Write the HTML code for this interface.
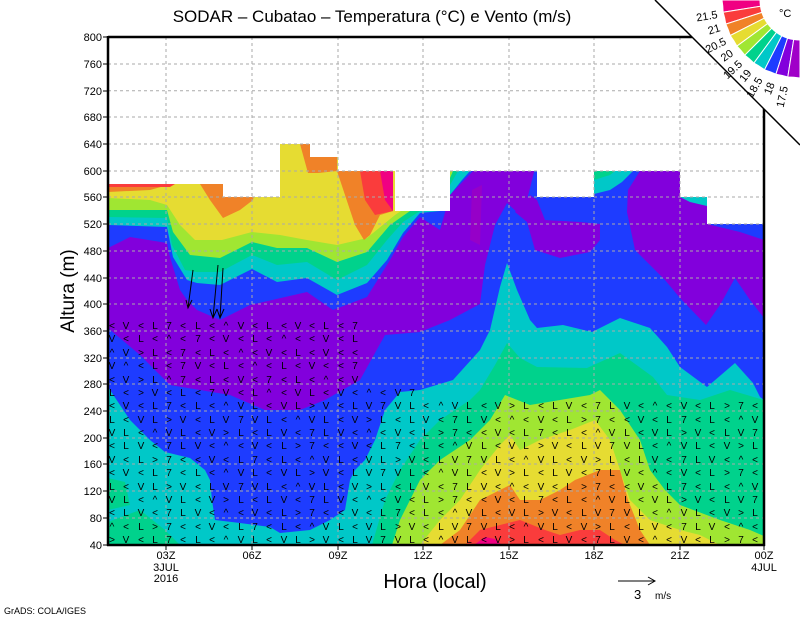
<!DOCTYPE html>
<html><head><meta charset="utf-8"><style>
html,body{margin:0;padding:0;background:#fff;}
svg{display:block;font-family:"Liberation Sans",sans-serif;}
</style></head><body>
<svg width="800" height="618" viewBox="0 0 800 618" xmlns="http://www.w3.org/2000/svg">
<rect width="800" height="618" fill="#fff"/>
<g>
<rect x="108" y="37" width="656" height="508" fill="#8200dc"/>
<polygon fill="#1e3cff" points="108,328 140,355 170,385 230,395 265,410 300,410 325,400 360,380 385,335 420,332 450,320 480,304 485,265 495,225 507,203 520,215 527,200 537,160 645,160 640,171 628,190 627,212 635,250 665,280 680,298 706,325 720,305 735,278 750,300 764,318 764,545 108,545"/>
<polygon fill="#8200dc" points="515,212 527,222 535,250 560,258 590,252 600,240 600,224 580,222 545,220 537,200 530,195"/>
<polygon fill="#9600c8" points="472,190 482,185 480,245 470,240"/>
<polygon fill="#00c8c8" points="108,387 130,420 150,440 165,452 190,458 205,470 210,480 212,500 215,520 240,523 270,527 280,533 310,530 330,520 345,510 350,480 355,470 365,460 375,440 385,410 400,392 420,390 453,380 480,350 490,330 500,287 507,263 517,290 530,320 537,328 563,325 592,332 620,318 650,328 667,347 680,367 707,387 735,363 753,383 760,397 764,400 764,545 108,545"/>
<polygon fill="#00d28c" points="108,478 125,482 130,505 108,510"/>
<polygon fill="#00d28c" points="108,522 140,510 165,530 180,545 108,545"/>
<polygon fill="#00d28c" points="372,545 385,500 400,470 420,440 440,420 470,400 480,390 495,365 507,343 520,358 537,367 587,368 620,353 653,377 667,395 700,400 730,390 764,400 764,545"/>
<polygon fill="#a0e632" points="392,545 400,520 420,480 440,460 470,440 490,420 505,395 530,405 560,400 590,395 600,390 620,410 640,440 650,470 665,490 680,505 720,520 750,530 764,536 764,545"/>
<polygon fill="#e6dc32" points="420,545 440,520 460,500 480,470 500,445 510,435 520,450 540,440 570,430 595,420 610,440 620,470 630,500 650,520 680,530 700,535 720,545"/>
<polygon fill="#f08228" points="440,545 460,530 480,500 500,490 510,485 520,500 540,500 560,490 575,480 600,470 620,470 628,500 640,530 650,545"/>
<polygon fill="#fa3c3c" points="465,545 480,530 500,525 520,520 545,530 560,535 580,530 600,530 615,540 625,545"/>
<polygon fill="#f00082" points="474,545 485,537 495,539 502,545"/>
<polygon fill="#1e3cff" points="108,100 108,248 130,237 167,243 170,257 180,290 187,300 197,310 220,320 250,305 307,292 333,310 367,297 390,260 403,237 420,217 440,230 450,195 473,171 473,100"/>
<polygon fill="#00c8c8" points="108,100 108,225 167,227 173,257 187,280 197,283 220,285 252,269 277,282 307,278 337,295 367,283 387,260 403,233 420,213 440,211 450,195 462,180 470,171 470,100"/>
<polygon fill="#00d28c" points="108,100 108,217 167,218 172,245 185,270 197,272 220,272 252,255 277,265 307,262 337,280 367,265 387,240 403,222 420,211 450,185 458,171 458,100"/>
<polygon fill="#a0e632" points="108,100 108,210 167,210 173,232 190,255 220,258 252,242 277,248 307,248 337,262 367,252 390,225 410,211 450,178 453,171 453,100"/>
<polygon fill="#e6dc32" points="108,100 108,198 150,200 167,205 180,225 195,240 222,240 252,232 280,235 307,240 337,245 367,238 395,215 410,205 410,100"/>
<polygon fill="#f08228" points="108,100 108,192 150,190 168,185 178,182 178,100"/>
<polygon fill="#f08228" points="200,184 210,200 223,218 240,210 253,200 256,184"/>
<polygon fill="#f08228" points="300,144 310,144 310,157 337,157 337,171 318,173 308,173"/>
<polygon fill="#f08228" points="337,171 345,195 355,225 364,240 370,235 380,215 393,211 393,171"/>
<polygon fill="#fa3c3c" points="360,171 365,200 375,215 393,211 393,171"/>
<polygon fill="#f00082" points="380,171 393,171 393,211 385,200"/>
<polygon fill="#fa3c3c" points="108,184 175,184 170,187 108,187"/>
<polygon fill="#00c8c8" points="594,171 633,171 622,182 610,190 594,194"/>
<polygon fill="#00d28c" points="594,171 615,171 610,175 594,180"/>
<polygon fill="#1e3cff" points="707,224 764,224 764,240 740,232"/>
<polygon fill="#00c8c8" points="680,197 707,197 707,206 690,202"/>
<path fill="#fff" d="M108,36 H764 V224 H707 V197 H680 V171 H594 V197 H537 V171 H450 V211 H395 V171 H338 V157 H310 V144 H280 V197 H223 V184 H108 Z"/>
</g>
<g stroke="#aaa" stroke-width="1" stroke-dasharray="3 3" fill="none">
<path d="M108,64H764M108,90.7H764M108,117H764M108,144H764M108,171H764M108,197H764M108,224H764M108,251H764M108,278H764M108,304H764M108,331H764M108,358H764M108,384H764M108,411H764M108,438H764M108,464H764M108,491H764M108,518H764"/>
<path d="M166,37V545M252,37V545M338,37V545M423,37V545M509,37V545M594,37V545M680,37V545"/>
</g>
<g fill="#000" font-size="10" text-anchor="middle">
<text x="112 126 141 155 169 183 198 212 226 241 255 269 284 298 312 326 341 355" y="329">&lt;V&lt;L7&lt;L&lt;^V&lt;L&lt;V&lt;L&lt;7</text>
<text x="112 126 141 155 169 183 198 212 226 241 255 269 284 298 312 326 341 355" y="342">V&lt;L&lt;^&lt;7&lt;V&lt;L&lt;^&lt;&lt;V&lt;L</text>
<text x="112 126 141 155 169 183 198 212 226 241 255 269 284 298 312 326 341 355" y="356">^V&gt;L&lt;7&lt;L&lt;^&lt;V&lt;L&lt;V&lt;&lt;</text>
<text x="112 126 141 155 169 183 198 212 226 241 255 269 284 298 312 326 341 355" y="369">V^&lt;L&lt;7V&lt;L&lt;^&lt;L&lt;V&lt;&lt;7</text>
<text x="112 126 141 155 169 183 198 212 226 241 255 269 284 298 312 326 341 355" y="383">&lt;V&gt;L^7&lt;L&lt;V&lt;7&lt;L&lt;^&lt;V</text>
<text x="112 126 141 155 169 183 198 212 226 241 255 269 284 298 312 326 341 355 369 383 398 412" y="396">L&lt;&gt;V&lt;L&lt;7V&lt;L^&lt;VL&lt;V&lt;^&lt;V7</text>
<text x="112 126 141 155 169 183 198 212 226 241 255 269 284 298 312 326 341 355 369 383 398 412 426 441 455 469 484 498 512 526 541 555 569 584 598 612 627 641 655 669 684 698 712 727 741 755" y="409">&lt;V&lt;L7&lt;L&lt;^VL&lt;VL&gt;V&lt;LV7VL&lt;^VL&lt;V&gt;L&lt;LV&lt;7LV&lt;^&lt;V&lt;L&gt;7&lt;</text>
<text x="112 126 141 155 169 183 198 212 226 241 255 269 284 298 312 326 341 355 369 383 398 412 426 441 455 469 484 498 512 526 541 555 569 584 598 612 627 641 655 669 684 698 712 727 741 755" y="423">L&lt;VL&gt;V&lt;LV7VL&lt;^VL&lt;V&gt;L&lt;LV&lt;7LV&lt;^&lt;V&lt;L&gt;7&lt;&lt;V&lt;L7&lt;L&lt;^V</text>
<text x="112 126 141 155 169 183 198 212 226 241 255 269 284 298 312 326 341 355 369 383 398 412 426 441 455 469 484 498 512 526 541 555 569 584 598 612 627 641 655 669 684 698 712 727 741 755" y="436">VL&lt;^VL&lt;V&gt;L&lt;LV&lt;7LV&lt;^&lt;V&lt;L&gt;7&lt;&lt;V&lt;L7&lt;L&lt;^VL&lt;VL&gt;V&lt;LV7</text>
<text x="112 126 141 155 169 183 198 212 226 241 255 269 284 298 312 326 341 355 369 383 398 412 426 441 455 469 484 498 512 526 541 555 569 584 598 612 627 641 655 669 684 698 712 727 741 755" y="449">&lt;LV&lt;7LV&lt;^&lt;V&lt;L&gt;7&lt;&lt;V&lt;L7&lt;L&lt;^VL&lt;VL&gt;V&lt;LV7VL&lt;^VL&lt;V&gt;L</text>
<text x="112 126 141 155 169 183 198 212 226 241 255 269 284 298 312 326 341 355 369 383 398 412 426 441 455 469 484 498 512 526 541 555 569 584 598 612 627 641 655 669 684 698 712 727 741 755" y="463">V&lt;L&gt;7&lt;&lt;V&lt;L7&lt;L&lt;^VL&lt;VL&gt;V&lt;LV7VL&lt;^VL&lt;V&gt;L&lt;LV&lt;7LV&lt;^&lt;</text>
<text x="112 126 141 155 169 183 198 212 226 241 255 269 284 298 312 326 341 355 369 383 398 412 426 441 455 469 484 498 512 526 541 555 569 584 598 612 627 641 655 669 684 698 712 727 741 755" y="476">&lt;V&lt;L7&lt;L&lt;^VL&lt;VL&gt;V&lt;LV7VL&lt;^VL&lt;V&gt;L&lt;LV&lt;7LV&lt;^&lt;V&lt;L&gt;7&lt;</text>
<text x="112 126 141 155 169 183 198 212 226 241 255 269 284 298 312 326 341 355 369 383 398 412 426 441 455 469 484 498 512 526 541 555 569 584 598 612 627 641 655 669 684 698 712 727 741 755" y="490">L&lt;VL&gt;V&lt;LV7VL&lt;^VL&lt;V&gt;L&lt;LV&lt;7LV&lt;^&lt;V&lt;L&gt;7&lt;&lt;V&lt;L7&lt;L&lt;^V</text>
<text x="112 126 141 155 169 183 198 212 226 241 255 269 284 298 312 326 341 355 369 383 398 412 426 441 455 469 484 498 512 526 541 555 569 584 598 612 627 641 655 669 684 698 712 727 741 755" y="503">VL&lt;^VL&lt;V&gt;L&lt;LV&lt;7LV&lt;^&lt;V&lt;L&gt;7&lt;&lt;V&lt;L7&lt;L&lt;^VL&lt;VL&gt;V&lt;LV7</text>
<text x="112 126 141 155 169 183 198 212 226 241 255 269 284 298 312 326 341 355 369 383 398 412 426 441 455 469 484 498 512 526 541 555 569 584 598 612 627 641 655 669 684 698 712 727 741 755" y="516">&lt;LV&lt;7LV&lt;^&lt;V&lt;L&gt;7&lt;&lt;V&lt;L7&lt;L&lt;^VL&lt;VL&gt;V&lt;LV7VL&lt;^VL&lt;V&gt;L</text>
<text x="112 126 141 155 169 183 198 212 226 241 255 269 284 298 312 326 341 355 369 383 398 412 426 441 455 469 484 498 512 526 541 555 569 584 598 612 627 641 655 669 684 698 712 727 741 755" y="530">^&lt;L&gt;7&lt;&lt;V&lt;L7&lt;L&lt;^VL&lt;VL&gt;V&lt;LV7VL&lt;^VL&lt;V&gt;L&lt;LV&lt;7LV&lt;^&lt;</text>
<text x="112 126 141 155 169 183 198 212 226 241 255 269 284 298 312 326 341 355 369 383 398 412 426 441 455 469 484 498 512 526 541 555 569 584 598 612 627 641 655 669 684 698 712 727 741 755" y="543">&gt;V&lt;L7&lt;L&lt;^VL&lt;VL&gt;V&lt;LV7VL&lt;^VL&lt;V&gt;L&lt;LV&lt;7LV&lt;^&lt;V&lt;L&gt;7&lt;</text>
</g>
<g stroke="#000" stroke-width="1" fill="none">
<path d="M193,270L188,308M186,300L188,308L192,300"/>
<path d="M218,265L213,318M210,309L213,318L217,309"/>
<path d="M223,268L220,318M217,309L220,318L224,309"/>
</g>
<g stroke="#000" fill="none">
<path d="M108,36V546M107,545H765" stroke-width="2.5"/>
<path d="M764,108V546" stroke-width="2.5"/>
<path d="M108,37H692" stroke-width="2.5"/>
<path d="M166,545v5M252,545v5M338,545v5M423,545v5M509,545v5M594,545v5M680,545v5M764,545v5" stroke-width="1"/>
<path d="M103,37h5M103,64h5M103,91h5M103,117h5M103,144h5M103,171h5M103,197h5M103,224h5M103,251h5M103,278h5M103,304h5M103,331h5M103,358h5M103,384h5M103,411h5M103,438h5M103,464h5M103,491h5M103,518h5M103,545h5" stroke-width="1"/>
</g>
<polygon fill="#fff" points="655,0 800,0 800,145"/>
<line x1="655" y1="0" x2="800" y2="145" stroke="#000" stroke-width="1.5"/>
<g stroke="#fff" stroke-width="1">
<path fill="#f00082" d="M722,0 A78,78 0 0 1 723.1,12.2 L760.5,6.3 A40,40 0 0 1 760,0 Z"/>
<path fill="#fa3c3c" d="M723.1,12.2 A78,78 0 0 1 725.8,24.1 L761.9,12.4 A40,40 0 0 1 760.5,6.3 Z"/>
<path fill="#f08228" d="M725.8,24.1 A78,78 0 0 1 730.2,35.5 L764.2,18.2 A40,40 0 0 1 761.9,12.4 Z"/>
<path fill="#e6dc32" d="M730.2,35.5 A78,78 0 0 1 736.9,46.1 L767.6,23.6 A40,40 0 0 1 764.2,18.2 Z"/>
<path fill="#a0e632" d="M736.9,46.1 A78,78 0 0 1 744.8,55.2 L771.7,28.3 A40,40 0 0 1 767.6,23.6 Z"/>
<path fill="#00d28c" d="M744.8,55.2 A78,78 0 0 1 753.9,63.1 L776.4,32.4 A40,40 0 0 1 771.7,28.3 Z"/>
<path fill="#00c8c8" d="M753.9,63.1 A78,78 0 0 1 764.5,69.8 L781.8,35.8 A40,40 0 0 1 776.4,32.4 Z"/>
<path fill="#1e3cff" d="M764.5,69.8 A78,78 0 0 1 775.9,74.2 L787.6,38.1 A40,40 0 0 1 781.8,35.8 Z"/>
<path fill="#8200dc" d="M775.9,74.2 A78,78 0 0 1 787.8,77.0 L793.7,39.5 A40,40 0 0 1 787.6,38.1 Z"/>
<path fill="#a000c8" d="M787.8,77.0 A78,78 0 0 1 800,78 L800,40 A40,40 0 0 1 793.7,39.5 Z"/>
</g>
<g font-size="11" fill="#000" text-anchor="end">
<text transform="translate(718,18) rotate(-9.5)">21.5</text>
<text transform="translate(721,31) rotate(-17)">21</text>
<text transform="translate(727,44) rotate(-26)">20.5</text>
<text transform="translate(734,55) rotate(-35)">20</text>
<text transform="translate(743,65) rotate(-43)">19.5</text>
<text transform="translate(752,73) rotate(-52)">19</text>
<text transform="translate(763,80) rotate(-60)">18.5</text>
<text transform="translate(775,84) rotate(-69)">18</text>
<text transform="translate(788,87) rotate(-78)">17.5</text>
</g>
<text x="779" y="17" font-size="11">°C</text>
<text x="372" y="22" font-size="17" text-anchor="middle">SODAR – Cubatao – Temperatura (°C) e Vento (m/s)</text>
<g font-size="11" text-anchor="end">
<text x="102" y="41">800</text><text x="102" y="68">760</text><text x="102" y="95">720</text><text x="102" y="121">680</text>
<text x="102" y="148">640</text><text x="102" y="175">600</text><text x="102" y="201">560</text><text x="102" y="228">520</text>
<text x="102" y="255">480</text><text x="102" y="282">440</text><text x="102" y="308">400</text><text x="102" y="335">360</text>
<text x="102" y="362">320</text><text x="102" y="388">280</text><text x="102" y="415">240</text><text x="102" y="442">200</text>
<text x="102" y="468">160</text><text x="102" y="495">120</text><text x="102" y="522">80</text><text x="102" y="549">40</text>
</g>
<g font-size="11" text-anchor="middle">
<text x="166" y="559">03Z</text><text x="166" y="571">3JUL</text><text x="166" y="582">2016</text>
<text x="252" y="559">06Z</text><text x="338" y="559">09Z</text><text x="423" y="559">12Z</text>
<text x="509" y="559">15Z</text><text x="594" y="559">18Z</text><text x="680" y="559">21Z</text>
<text x="764" y="559">00Z</text><text x="764" y="571">4JUL</text>
</g>
<text x="435" y="588" font-size="20" text-anchor="middle">Hora (local)</text>
<text transform="translate(74,291) rotate(-90)" font-size="19" text-anchor="middle">Altura (m)</text>
<g stroke="#000" fill="none"><path d="M618,581H655M648,577L655,581L648,585"/></g>
<text x="634" y="599" font-size="13">3</text>
<text x="655" y="599" font-size="10">m/s</text>
<text x="4" y="614" font-size="9">GrADS: COLA/IGES</text>
</svg>
</body></html>
